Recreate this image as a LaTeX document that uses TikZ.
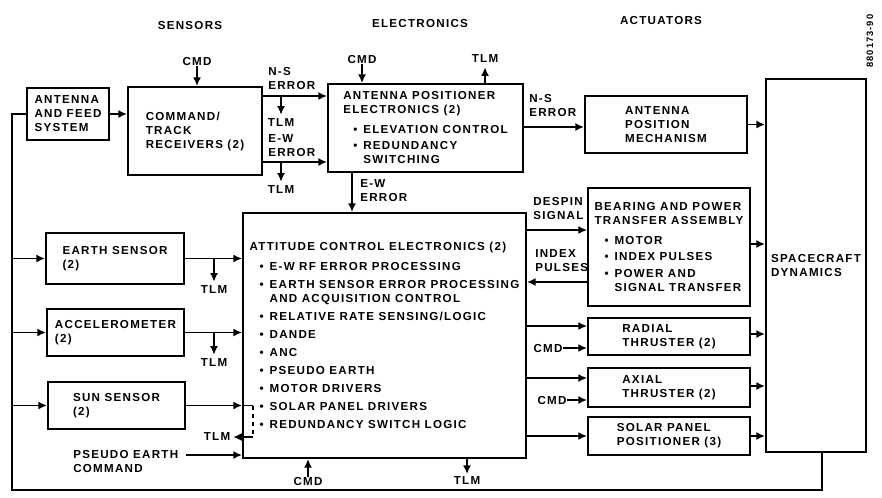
\documentclass[tikz,border=0pt]{standalone}
\usepackage{fontspec}
\newfontfamily\diagfont[LetterSpace=11]{Liberation Sans}
\usetikzlibrary{arrows.meta, calc}
\newdimen\pxu
\pxu=0.75pt
\newcommand{\bitem}{\hspace*{10\pxu}\makebox[10\pxu][l]{\textbullet}}
\newcommand{\bcont}{\hspace*{20\pxu}}
\tikzset
{
  blk/.style={draw, line width=1.4pt, inner sep=0pt, align=left},
  lbl/.style={inner sep=0pt, align=left},
  sig/.style={line width=1.4pt, -{Latex[length=6.5pt,width=6pt]}},
  wire/.style={line width=1.4pt}
}

\begin{document}
\begin{tikzpicture}[x=0.75pt, y=-0.75pt,
    every node/.style={font=\diagfont\bfseries\fontsize{8.7}{10.5}\selectfont}]
    \useasboundingbox (0,0) rectangle (882,497);

    % Column headings
    \node[lbl] (hsens) at (190,26) {SENSORS};
    \node[lbl] (helec) at (420,24) {ELECTRONICS};
    \node[lbl] (hact) at (661,21) {ACTUATORS};
    \node[lbl, rotate=90, font=\diagfont\bfseries\fontsize{7}{8}\selectfont] (figno) at (870,41) {880173-90};

    % Sensors
    \node[blk, minimum width=82\pxu, minimum height=52\pxu] (feed) at (68,114) {ANTENNA\\AND FEED\\SYSTEM};
    \node[blk, minimum width=134\pxu, minimum height=88\pxu] (rcv) at (195,131) {COMMAND/\\TRACK\\RECEIVERS (2)};
    \node[blk, minimum width=138\pxu, minimum height=51\pxu] (earth) at (115,258.5) {EARTH SENSOR\\(2)};
    \node[blk, minimum width=137\pxu, minimum height=47\pxu] (accel) at (115.5,332.5) {ACCELEROMETER\\(2)};
    \node[blk, minimum width=137\pxu, minimum height=47\pxu] (sun) at (116.5,405.5) {SUN SENSOR\\(2)};

    % Electronics
    \node[blk, minimum width=195\pxu, minimum height=88\pxu] (ape) at (425.5,128)
        {ANTENNA POSITIONER\\ELECTRONICS (2)\\[4pt]\bitem ELEVATION CONTROL\\[2pt]\bitem REDUNDANCY\\\bcont SWITCHING};
    \node[blk, minimum width=283\pxu, minimum height=245\pxu] (ace) at (384.5,335.5)
        {ATTITUDE CONTROL ELECTRONICS (2)\\[4pt]
         \bitem E-W RF ERROR PROCESSING\\[3pt]
         \bitem EARTH SENSOR ERROR PROCESSING\\
         \bcont AND ACQUISITION CONTROL\\[3pt]
         \bitem RELATIVE RATE SENSING/LOGIC\\[3pt]
         \bitem DANDE\\[3pt]
         \bitem ANC\\[3pt]
         \bitem PSEUDO EARTH\\[3pt]
         \bitem MOTOR DRIVERS\\[3pt]
         \bitem SOLAR PANEL DRIVERS\\[3pt]
         \bitem REDUNDANCY SWITCH LOGIC};

    % Actuators
    \node[blk, minimum width=162\pxu, minimum height=57\pxu] (apm) at (666,124.5) {ANTENNA\\POSITION\\MECHANISM};
    \node[blk, minimum width=162\pxu, minimum height=118\pxu] (bpta) at (669,247)
        {BEARING AND POWER\\TRANSFER ASSEMBLY\\[4pt]\bitem MOTOR\\[2pt]\bitem INDEX PULSES\\[2pt]\bitem POWER AND\\\bcont SIGNAL TRANSFER};
    \node[blk, minimum width=162\pxu, minimum height=37\pxu] (radial) at (669,336.5) {RADIAL\\THRUSTER (2)};
    \node[blk, minimum width=162\pxu, minimum height=39\pxu] (axial) at (669,387.5) {AXIAL\\THRUSTER (2)};
    \node[blk, minimum width=162\pxu, minimum height=38\pxu] (solar) at (669,436) {SOLAR PANEL\\POSITIONER (3)};
    \node[blk, minimum width=100\pxu, minimum height=373\pxu] (dyn) at (816,265.5) {SPACECRAFT\\DYNAMICS};

    % Feedback loop from spacecraft dynamics to sensors
    \coordinate (fbl) at (12,490);
    \draw[wire] (dyn.south -| 822,0) |- (fbl) |- (feed.west);
    \draw[sig] (fbl |- earth.west) -- (earth.west);
    \draw[sig] (fbl |- accel.west) -- (accel.west);
    \draw[sig] (fbl |- sun.west) -- (sun.west);

    % Receivers
    \draw[sig] (feed.east) -- (rcv.west |- feed.east);
    \node[lbl] (cmdrcv) at (197,62) {CMD};
    \draw[sig] (cmdrcv.south) -- (cmdrcv.south |- rcv.north);
    \draw[sig] (rcv.east |- 0,96) -- (ape.west |- 0,96);
    \node[lbl, anchor=south west] (nserr) at (268,90) {N-S\\ERROR};
    \node[lbl] (tlmns) at (281,123) {TLM};
    \draw[sig, shorten >=3pt] (tlmns.north |- 0,96) -- (tlmns.north);
    \draw[sig] (rcv.east |- 0,162) -- (ape.west |- 0,162);
    \node[lbl, anchor=south west] (ewerr) at (268,157) {E-W\\ERROR};
    \node[lbl] (tlmew) at (281,190) {TLM};
    \draw[sig, shorten >=3pt] (tlmew.north |- 0,162) -- (tlmew.north);

    % Antenna positioner electronics
    \node[lbl] (cmdape) at (362,60) {CMD};
    \draw[sig] (cmdape.south) -- (cmdape.south |- ape.north);
    \node[lbl] (tlmape) at (485,59) {TLM};
    \draw[sig, shorten >=3pt] (tlmape.south |- ape.north) -- (tlmape.south);
    \draw[sig] (ape.east |- 0,127) -- (apm.west |- 0,127);
    \node[lbl, anchor=south west] (nsape) at (529,117) {N-S\\ERROR};
    \draw[sig] (ape.south -| 352,0) -- (ace.north -| 352,0);
    \node[lbl, anchor=north west] (ewape) at (360,179) {E-W\\ERROR};
    \draw[sig] (apm.east) -- (dyn.west |- apm.east);

    % Attitude control electronics to actuators
    \draw[sig] (ace.east |- 0,230) -- (bpta.west |- 0,230);
    \node[lbl, anchor=south west] (despin) at (533,220) {DESPIN\\SIGNAL};
    \draw[sig] (bpta.west |- 0,282) -- (ace.east |- 0,282);
    \node[lbl, anchor=south west] (index) at (535,272) {INDEX\\PULSES};
    \draw[sig] (bpta.east |- 0,244) -- (dyn.west |- 0,244);
    \draw[sig] (ace.east |- 0,326) -- (radial.west |- 0,326);
    \node[lbl] (cmdrad) at (548,348) {CMD};
    \draw[sig] (cmdrad.east) -- (radial.west |- cmdrad.east);
    \draw[sig] (ace.east |- 0,378) -- (axial.west |- 0,378);
    \node[lbl] (cmdax) at (552,400) {CMD};
    \draw[sig] (cmdax.east) -- (axial.west |- cmdax.east);
    \draw[sig] (ace.east |- solar.west) -- (solar.west);
    \draw[sig] (radial.east |- 0,334) -- (dyn.west |- 0,334);
    \draw[sig] (axial.east |- 0,386) -- (dyn.west |- 0,386);
    \draw[sig] (solar.east) -- (dyn.west |- solar.east);

    % Sensors to attitude control electronics
    \draw[sig] (earth.east) -- (ace.west |- earth.east);
    \node[lbl] (tlmes) at (214,290) {TLM};
    \draw[sig, shorten >=3pt] (tlmes.north |- earth.east) -- (tlmes.north);
    \draw[sig] (accel.east) -- (ace.west |- accel.east);
    \node[lbl] (tlmacc) at (214,363) {TLM};
    \draw[sig, shorten >=3pt] (tlmacc.north |- accel.east) -- (tlmacc.north);
    \draw[sig] (sun.east) -- (ace.west |- sun.east);
    \coordinate (sw1) at (253,405.5);
    \coordinate (sw2) at (253,437);
    \draw[wire] (ace.west |- sun.east) -- (sw1);
    \draw[wire, dashed] (sw1) -- (sw2);
    \node[lbl] (tlmss) at (217,437) {TLM};
    \draw[sig, shorten >=2pt] (sw2) -- (tlmss.east);
    \node[lbl, anchor=north west] (pseudo) at (73,450) {PSEUDO EARTH\\COMMAND};
    \draw[sig, shorten <=6pt] (pseudo.east |- 0,455) -- (ace.west |- 0,455);
    \node[lbl] (cmdace) at (308,481) {CMD};
    \draw[sig] (cmdace.north) -- (cmdace.north |- ace.south);
    \node[lbl] (tlmace) at (467,481) {TLM};
    \draw[sig, shorten >=2pt] (tlmace.north |- ace.south) -- (tlmace.north);
\end{tikzpicture}
\end{document}
